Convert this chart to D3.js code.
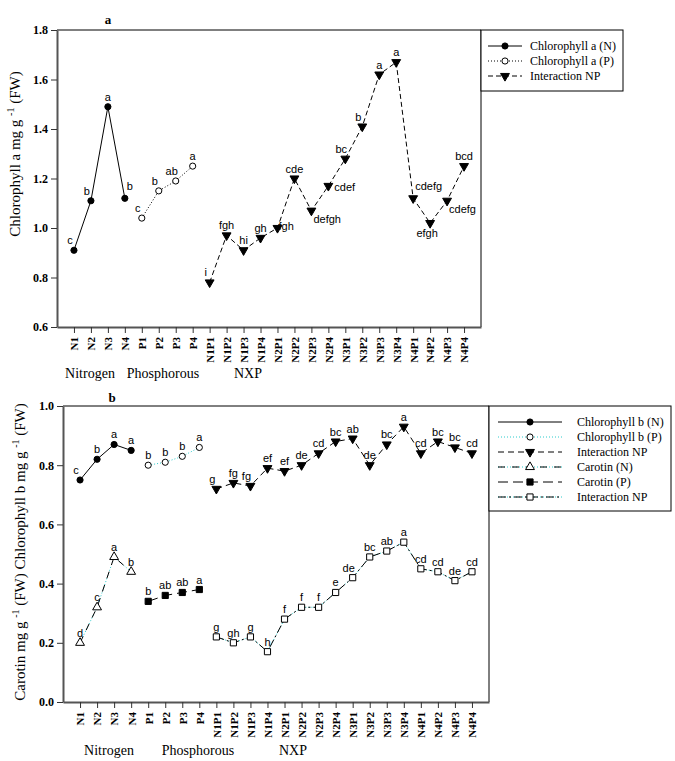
<!DOCTYPE html>
<html><head><meta charset="utf-8">
<script src="https://cdn.jsdelivr.net/npm/d3@7/dist/d3.min.js"></script>
<style>body{margin:0;background:#fff}svg{display:block}</style>
</head><body>
<script>
// ---------- DATA ----------
const categories = ["N1","N2","N3","N4","P1","P2","P3","P4",
  "N1P1","N1P2","N1P3","N1P4","N2P1","N2P2","N2P3","N2P4",
  "N3P1","N3P2","N3P3","N3P4","N4P1","N4P2","N4P3","N4P4"];
const nCats = categories.slice(0,4), pCats = categories.slice(4,8), npCats = categories.slice(8);
const groupTitles = ["Nitrogen","Phosphorous","NXP"];

// panel a
const chlaN = [0.91,1.11,1.49,1.12];
const chlaNLabels = ["c","b","a","b"];
const chlaP = [1.04,1.15,1.19,1.25];
const chlaPLabels = ["c","b","ab","a"];
const chlaNP = [0.78,0.97,0.91,0.96,1.00,1.20,1.07,1.17,1.28,1.41,1.62,1.67,1.12,1.02,1.11,1.25];
const chlaNPLabels = ["i","fgh","hi","gh","fgh","cde","defgh","cdef","bc","b","a","a","cdefg","efgh","cdefg","bcd"];
const yTicksA = [0.6,0.8,1.0,1.2,1.4,1.6,1.8];

// panel b
const chlbN = [0.75,0.82,0.87,0.85];
const chlbNLabels = ["c","b","a","a"];
const chlbP = [0.80,0.81,0.83,0.86];
const chlbPLabels = ["b","b","b","a"];
const chlbNP = [0.72,0.74,0.73,0.79,0.78,0.80,0.84,0.88,0.89,0.80,0.87,0.93,0.84,0.88,0.86,0.84];
const chlbNPLabels = ["g","fg","fg","ef","ef","de","cd","bc","ab","de","bc","a","cd","bc","bc","cd"];
const carN = [0.20,0.32,0.49,0.44];
const carNLabels = ["d","c","a","b"];
const carP = [0.34,0.36,0.37,0.38];
const carPLabels = ["b","ab","ab","a"];
const carNP = [0.22,0.20,0.22,0.17,0.28,0.32,0.32,0.37,0.42,0.49,0.51,0.54,0.45,0.44,0.41,0.44];
const carNPLabels = ["g","gh","g","h","f","f","f","e","de","bc","ab","a","cd","cd","de","cd"];
const yTicksB = [0.0,0.2,0.4,0.6,0.8,1.0];

// ---------- label placement codes (style, not data) ----------
const placeChlaN = ["tl","tl","t","tr"];
const placeChlaP = ["tl","tl","tl","t"];
const placeChlaNP = ["tl","t","t","t","r1","t","br","r","tl","tl","t","t","tr","b","br","t"];
const placeChlbN = ["tl","t","t","t"];
const placeChlbNP = ["tl","t","tl","t","t","t","t","t","t","t","t","t","t","t","t","t"];
const placeCarNP = ["t","t","t","t","t","t","t","t","tl","t","t","t","t","t","t","t"];
const placeDefs = {
  t:{dx:0,dy:-6,a:"middle"}, tl:{dx:-4,dy:-6,a:"middle"}, tr:{dx:2,dy:-8,a:"start"},
  r:{dx:6,dy:5,a:"start"}, r1:{dx:1,dy:2,a:"start"}, br:{dx:2,dy:12,a:"start"},
  b:{dx:-3,dy:14,a:"middle"}
};

const SERIF = "'Liberation Serif','Times New Roman',serif";
const SANS = "'Liberation Sans',Arial,sans-serif";
const CYAN = "#2ccccc";

const svg = d3.select("body").append("svg").attr("width",675).attr("height",761);

const styles = {
  solid: [{stroke:"#000",dash:null,w:1}],
  dotted: [{stroke:"#000",dash:"1,2",w:1}],
  cyanDot: [{stroke:CYAN,dash:"1,2",w:1}],
  dashed: [{stroke:"#000",dash:"5,3",w:1}],
  dashedB: [{stroke:"#000",dash:"6,4",w:1}],
  dashCyan: [{stroke:CYAN,dash:"1,2",w:1},{stroke:"#000",dash:"7,7",w:1}],
  longDash: [{stroke:"#000",dash:"10,5",w:1}],
  dashDot: [{stroke:CYAN,dash:"1,2",w:1},{stroke:"#000",dash:"8,3,2,3",w:1}]
};

const markerDefs = {
  circle:{type:d3.symbolCircle,size:30,rot:0},
  triDown:{type:d3.symbolTriangle,size:34,rot:180},
  triUp:{type:d3.symbolTriangle,size:34,rot:0},
  square:{type:d3.symbolSquare,size:38,rot:0}
};
function drawMarker(g, type, cx, cy, filled){
  const m = markerDefs[type];
  g.append("path").attr("d",d3.symbol().type(m.type).size(m.size)())
    .attr("transform",`translate(${cx},${cy}) rotate(${m.rot})`)
    .attr("fill",filled?"#000":"#fff").attr("stroke","#000").attr("stroke-width",1);
}

function drawPanel(p){
  const g = svg.append("g");
  const x = d3.scalePoint().domain(categories).range([p.x0,p.x1]).padding(1);
  const y = d3.scaleLinear().domain(p.yDomain).range([p.yB,p.yT]);

  // frame top/right
  g.append("line").attr("x1",p.x0).attr("x2",p.x1).attr("y1",p.yT).attr("y2",p.yT).attr("stroke","#000").attr("stroke-width",1);
  g.append("line").attr("x1",p.x1).attr("x2",p.x1).attr("y1",p.yT).attr("y2",p.yB).attr("stroke","#000").attr("stroke-width",1);

  const ya = g.append("g").attr("transform",`translate(${p.x0},0)`)
    .call(d3.axisLeft(y).tickValues(p.yTicks).tickFormat(d3.format(".1f")).tickSize(6).tickSizeOuter(0).tickPadding(3));
  ya.select(".domain").attr("stroke","#555").attr("stroke-width",2);
  ya.selectAll(".tick line").attr("stroke","#333");
  ya.selectAll("text").attr("font-family",SERIF).attr("font-weight","bold").attr("font-size",12).attr("fill","#000");

  const xa = g.append("g").attr("transform",`translate(0,${p.yB})`)
    .call(d3.axisBottom(x).tickSize(6).tickSizeOuter(0).tickPadding(3));
  xa.select(".domain").attr("stroke","#555").attr("stroke-width",2);
  xa.selectAll(".tick line").attr("stroke","#333");
  xa.selectAll("text").attr("transform","rotate(-90)").attr("text-anchor","end")
    .attr("x",-10).attr("y",0).attr("dy","0.35em")
    .attr("font-family",SERIF).attr("font-weight","bold").attr("font-size",11).attr("fill","#000");

  // panel letter
  g.append("text").attr("x",p.letterX).attr("y",p.letterY).attr("text-anchor","middle")
    .attr("font-family",SERIF).attr("font-weight","bold").attr("font-size",13).text(p.letter);

  // group titles
  groupTitles.forEach((t,i)=>{
    g.append("text").attr("x",p.groupX[i]).attr("y",p.groupY).attr("text-anchor","middle")
      .attr("font-family",SERIF).attr("font-size",14).text(t);
  });

  // y title
  const yt = g.append("text").attr("transform",`translate(${p.yTitleX},${p.yTitleY}) rotate(-90)`)
    .attr("text-anchor","middle").attr("font-family",SERIF).attr("font-size",15);
  p.yTitle.forEach(part=>{
    const ts = yt.append("tspan").text(part.t);
    if(part.sup){ ts.attr("font-size",10).attr("dy",-6); }
    else if(part.after){ ts.attr("dy",6); }
  });

  // series
  p.series.forEach(s=>{
    const pts = s.cats.map((c,i)=>[x(c), y(s.values[i])]);
    styles[s.style].forEach(st=>{
      g.append("path").attr("d",d3.line()(pts)).attr("fill","none")
        .attr("stroke",st.stroke).attr("stroke-width",st.w).attr("stroke-dasharray",st.dash);
    });
    pts.forEach((pt,i)=>{
      drawMarker(g, s.marker, pt[0], pt[1], s.filled);
      const pl = placeDefs[(s.place||[])[i]||"t"];
      g.append("text").attr("x",pt[0]+pl.dx).attr("y",pt[1]+pl.dy).attr("text-anchor",pl.a)
        .attr("font-family",SANS).attr("font-size",11).attr("fill","#000").text(s.labels[i]);
    });
  });

  // legend
  const L = p.legend;
  g.append("rect").attr("x",L.x).attr("y",L.y).attr("width",L.w).attr("height",L.h)
    .attr("fill","#fff").attr("stroke","#000").attr("stroke-width",1);
  p.series.forEach((s,i)=>{
    const ly = L.y + L.first + i*L.step;
    styles[s.style].forEach(st=>{
      g.append("line").attr("x1",L.lx0).attr("x2",L.lx1).attr("y1",ly).attr("y2",ly)
        .attr("stroke",st.stroke).attr("stroke-width",st.w).attr("stroke-dasharray",st.dash);
    });
    drawMarker(g, s.marker, (L.lx0+L.lx1)/2, ly, s.filled);
    g.append("text").attr("x",L.tx).attr("y",ly).attr("dy","0.35em")
      .attr("font-family",SERIF).attr("font-size",12).text(s.name);
  });
}

drawPanel({
  x0:57, x1:481, yT:30, yB:327, yDomain:[0.6,1.8], yTicks:yTicksA,
  letter:"a", letterX:108, letterY:24,
  groupX:[90,163,248], groupY:378,
  yTitleX:20, yTitleY:154,
  yTitle:[{t:"Chlorophyll a mg g "},{t:"-1",sup:true},{t:" (FW)",after:true}],
  legend:{x:481,y:30,w:142,h:61,first:16,step:15,lx0:488,lx1:522,tx:530},
  series:[
    {name:"Chlorophyll a (N)", cats:nCats, values:chlaN, labels:chlaNLabels, place:placeChlaN, style:"solid", marker:"circle", filled:true},
    {name:"Chlorophyll a (P)", cats:pCats, values:chlaP, labels:chlaPLabels, place:placeChlaP, style:"dotted", marker:"circle", filled:false},
    {name:"Interaction NP", cats:npCats, values:chlaNP, labels:chlaNPLabels, place:placeChlaNP, style:"dashed", marker:"triDown", filled:true}
  ]
});

drawPanel({
  x0:63, x1:489, yT:406, yB:702, yDomain:[0,1.0], yTicks:yTicksB,
  letter:"b", letterX:112, letterY:402,
  groupX:[109,198,293], groupY:755,
  yTitleX:25, yTitleY:552,
  yTitle:[{t:"Carotin mg g "},{t:"-1",sup:true},{t:" (FW) Chlorophyll b mg g ",after:true},{t:"-1",sup:true},{t:" (FW)",after:true}],
  legend:{x:489,y:406,w:182,h:105,first:16,step:15,lx0:498,lx1:562,tx:577},
  series:[
    {name:"Chlorophyll b (N)", cats:nCats, values:chlbN, labels:chlbNLabels, place:placeChlbN, style:"solid", marker:"circle", filled:true},
    {name:"Chlorophyll b (P)", cats:pCats, values:chlbP, labels:chlbPLabels, style:"cyanDot", marker:"circle", filled:false},
    {name:"Interaction NP", cats:npCats, values:chlbNP, labels:chlbNPLabels, place:placeChlbNP, style:"dashedB", marker:"triDown", filled:true},
    {name:"Carotin (N)", cats:nCats, values:carN, labels:carNLabels, style:"dashCyan", marker:"triUp", filled:false},
    {name:"Carotin (P)", cats:pCats, values:carP, labels:carPLabels, style:"longDash", marker:"square", filled:true},
    {name:"Interaction NP", cats:npCats, values:carNP, labels:carNPLabels, place:placeCarNP, style:"dashDot", marker:"square", filled:false}
  ]
});
</script>
</body></html>
